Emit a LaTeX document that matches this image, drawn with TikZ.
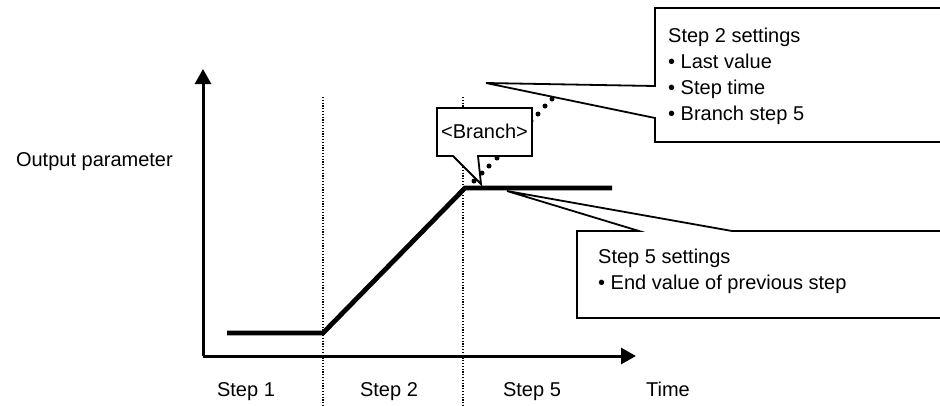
\documentclass[tikz,border=0pt]{standalone}
\usepackage{fontspec}
\setmainfont{Liberation Sans}
\usetikzlibrary{arrows.meta}
\begin{document}
\begin{tikzpicture}[x=1pt,y=-1pt,
  txt/.style={inner sep=0pt, font=\fontsize{20}{26}\selectfont},
  axisline/.style={line width=3pt, -{Triangle[length=15pt,width=16pt]}},
  guide/.style={line width=1.1pt, dash pattern=on 1.1pt off 1.7pt},
  profile/.style={line width=4.8pt, line join=miter},
  callout/.style={draw, fill=white, line width=1.8pt, line join=miter},
  bigdot/.style={fill, circle, inner sep=0pt, minimum size=5pt}
]
\clip (0,0) rectangle (940,405);
\fill[white] (0,0) rectangle (940,405);

% guide lines
\coordinate (g1t) at (323,97);  \coordinate (g1b) at (323,406);
\coordinate (g2t) at (463,97);  \coordinate (g2b) at (463,406);
\draw[guide] (g1t) -- (g1b);
\draw[guide] (g2t) -- (g2b);

% axes
\coordinate (o) at (203,356);
\coordinate (ytip) at (203,69);
\coordinate (xtip) at (636,356);
\draw[axisline] (o) -- (ytip);
\draw[axisline] (o) -- (xtip);

% profile
\coordinate (p1) at (227,333);
\coordinate (p2) at (323,333);
\coordinate (p3) at (465,188);
\coordinate (p4) at (612,188);
\draw[profile] (p1) -- (p2) -- (p3) -- (p4);

% dotted branch path
\foreach \i/\px/\py in {1/474/181,2/482/173,3/489/166,4/497/158,5/505/150,6/513/141,7/522/132,8/531/121,9/538/114,10/545/106,11/552/99}
  \node[bigdot] (d\i) at (\px,\py) {};

% Branch callout
\coordinate (b1) at (437,108);
\coordinate (b2) at (532,108);
\coordinate (b3) at (532,156);
\coordinate (b4) at (478,156);
\coordinate (btip) at (481,184);
\coordinate (b5) at (453,156);
\coordinate (b6) at (437,156);
\draw[callout] (b1) -- (b2) -- (b3) -- (b4) -- (btip) -- (b5) -- (b6) -- cycle;
\node[txt, anchor=base] (branch) at (484.5,138) {<Branch>};

% Step 2 settings callout
\coordinate (s1) at (655,8);
\coordinate (s2) at (945,8);
\coordinate (s3) at (945,142);
\coordinate (s4) at (655,142);
\coordinate (s5) at (655,118);
\coordinate (stip) at (486,83);
\coordinate (s6) at (655,86);
\draw[callout] (s1) -- (s2) -- (s3) -- (s4) -- (s5) -- (stip) -- (s6) -- cycle;
\node[txt, anchor=base west] (t21) at (668,42) {Step 2 settings};
\node[txt, anchor=base west] (t22) at (668,68) {• Last value};
\node[txt, anchor=base west] (t23) at (668,94) {• Step time};
\node[txt, anchor=base west] (t24) at (668,120) {• Branch step 5};

% Step 5 settings callout
\coordinate (f1) at (577,231);
\coordinate (f2) at (639,231);
\coordinate (ftip) at (507,191);
\coordinate (f3) at (732,231);
\coordinate (f4) at (945,231);
\coordinate (f5) at (945,318);
\coordinate (f6) at (577,318);
\draw[callout] (f1) -- (f2) -- (ftip) -- (f3) -- (f4) -- (f5) -- (f6) -- cycle;
\node[txt, anchor=base west] (t51) at (598,263) {Step 5 settings};
\node[txt, anchor=base west] (t52) at (598,289) {• End value of previous step};

% labels
\node[txt, anchor=base east] (op) at (173,166) {Output parameter};
\node[txt, anchor=base] (st1) at (246,396) {Step 1};
\node[txt, anchor=base] (st2) at (389,396) {Step 2};
\node[txt, anchor=base] (st5) at (532,396) {Step 5};
\node[txt, anchor=base] (tm) at (668,396) {Time};
\end{tikzpicture}
\end{document}
